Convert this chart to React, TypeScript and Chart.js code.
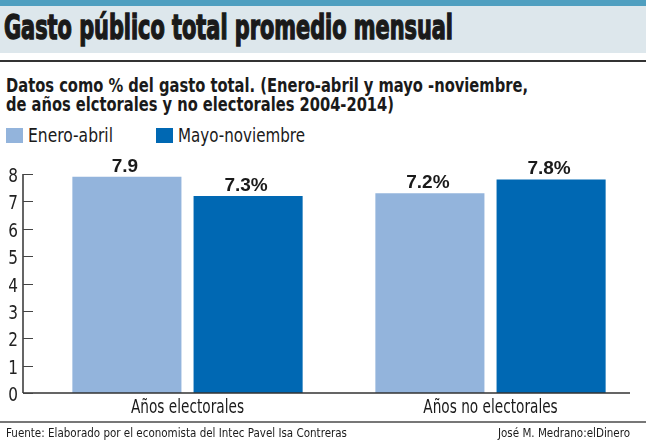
import React, { useEffect, useLayoutEffect, useRef } from "react";
import { Chart, registerables } from "chart.js";

Chart.register(...registerables);

// ---- data ----
const categories = ["Años electorales", "Años no electorales"];
const seriesNames = ["Enero-abril", "Mayo-noviembre"];
const eneroAbril = [7.9, 7.3];
const mayoNoviembre = [7.2, 7.8];
const eneroAbrilLabels = ["7.9", "7.2%"];
const mayoNoviembreLabels = ["7.3%", "7.8%"];
const yMin = 0;
const yMax = 8;
const yStep = 1;

const titleText = "Gasto público total promedio mensual";
const subtitle1 = "Datos como % del gasto total. (Enero-abril y mayo -noviembre,";
const subtitle2 = "de años elctorales y no electorales 2004-2014)";
const sourceText = "Fuente: Elaborado por el economista del Intec Pavel Isa Contreras";
const creditText = "José M. Medrano:elDinero";

// ---- styles ----
const LIGHT = "#93b4dc";
const DARK = "#0068b3";
const INK = "#1a1a1a";
const NARROW = "'Liberation Sans Narrow', 'Arial Narrow', 'DejaVu Sans Condensed', sans-serif";
const NORMAL = "'Liberation Sans', Arial, sans-serif";

function FitText(props: { text: string; left: number; top: number; width: number; style: React.CSSProperties }) {
  const ref = useRef<HTMLSpanElement>(null);
  useLayoutEffect(() => {
    const el = ref.current;
    if (!el) return;
    el.style.transform = "none";
    const w = el.getBoundingClientRect().width;
    if (w > 0) el.style.transform = `scaleX(${props.width / w})`;
  }, [props.text, props.width]);
  return (
    <span
      ref={ref}
      style={{
        position: "absolute",
        left: props.left,
        top: props.top,
        display: "inline-block",
        whiteSpace: "nowrap",
        transformOrigin: "left top",
        lineHeight: 1,
        ...props.style,
      }}
    >
      {props.text}
    </span>
  );
}

// axis lines, inward tick marks and condensed tick labels
const axisPlugin = {
  id: "customAxes",
  afterDatasetsDraw(chart: any) {
    const { ctx, chartArea, scales } = chart;
    const y = scales.y;
    const x = scales.x;
    const ax = chartArea.left - 13;
    const y0 = y.getPixelForValue(yMin);
    const yTop = y.getPixelForValue(yMax);
    ctx.save();
    ctx.strokeStyle = "#333";
    ctx.lineWidth = 1.5;
    ctx.beginPath();
    ctx.moveTo(ax, yTop);
    ctx.lineTo(ax, y0);
    ctx.moveTo(ax, y0);
    ctx.lineTo(chartArea.right - 12, y0);
    ctx.stroke();
    ctx.lineWidth = 1;
    ctx.strokeStyle = "#444";
    ctx.fillStyle = "#222";
    y.ticks.forEach((t: any) => {
      const py = Math.round(y.getPixelForValue(t.value)) + 0.5;
      ctx.beginPath();
      ctx.moveTo(ax, py);
      ctx.lineTo(ax + 10, py);
      ctx.stroke();
      ctx.save();
      ctx.font = `20px ${NARROW}`;
      ctx.textAlign = "right";
      ctx.textBaseline = "alphabetic";
      ctx.translate(chartArea.left - 18, py + 7.5);
      ctx.scale(0.85, 1);
      ctx.fillText(String(t.value), 0, 0);
      ctx.restore();
    });
    ctx.fillStyle = INK;
    categories.forEach((c, i) => {
      ctx.save();
      ctx.font = `19px ${NARROW}`;
      ctx.textAlign = "center";
      ctx.textBaseline = "alphabetic";
      ctx.translate(x.getPixelForTick(i), chartArea.bottom + 20);
      ctx.scale(0.8, 1);
      ctx.fillText(c, 0, 0);
      ctx.restore();
    });
    ctx.restore();
  },
};

const valueLabelPlugin = {
  id: "valueLabels",
  afterDatasetsDraw(chart: any) {
    const { ctx } = chart;
    const allLabels = [eneroAbrilLabels, mayoNoviembreLabels];
    ctx.save();
    ctx.font = `bold 19px ${NORMAL}`;
    ctx.fillStyle = INK;
    ctx.textAlign = "center";
    ctx.textBaseline = "alphabetic";
    chart.data.datasets.forEach((_: any, di: number) => {
      const meta = chart.getDatasetMeta(di);
      meta.data.forEach((bar: any, i: number) => {
        ctx.fillText(allLabels[di][i], bar.x - 2, bar.y - 5);
      });
    });
    ctx.restore();
  },
};

function BarChart() {
  const canvasRef = useRef<HTMLCanvasElement>(null);
  useEffect(() => {
    if (!canvasRef.current) return;
    const chart = new Chart(canvasRef.current, {
      type: "bar",
      data: {
        labels: categories,
        datasets: [
          { label: seriesNames[0], data: eneroAbril, backgroundColor: LIGHT, borderWidth: 0 },
          { label: seriesNames[1], data: mayoNoviembre, backgroundColor: DARK, borderWidth: 0 },
        ],
      },
      options: {
        animation: false,
        responsive: false,
        maintainAspectRatio: false,
        layout: { padding: { top: 24, right: 4, left: 0, bottom: 0 } },
        plugins: { legend: { display: false }, tooltip: { enabled: false }, title: { display: false } },
        scales: {
          x: {
            grid: { display: false, drawTicks: false },
            border: { display: false },
            ticks: { display: false },
            afterFit: (s: any) => {
              s.height = 29;
            },
          },
          y: {
            min: yMin,
            max: yMax,
            grid: { display: false, drawTicks: false },
            border: { display: false },
            ticks: { stepSize: yStep, display: false },
            afterFit: (s: any) => {
              s.width = 36;
            },
          },
        },
      },
      plugins: [axisPlugin, valueLabelPlugin],
    });
    return () => chart.destroy();
  }, []);
  return (
    <canvas
      ref={canvasRef}
      width={646}
      height={272}
      style={{ position: "absolute", left: 0, top: 150, width: 646, height: 272 }}
    />
  );
}

export default function App() {
  return (
    <div
      style={{
        position: "absolute",
        left: 0,
        top: 0,
        width: 646,
        height: 440,
        background: "#fff",
        overflow: "hidden",
        color: INK,
      }}
    >
      <div style={{ position: "absolute", left: 0, top: 0, width: 646, height: 6, background: "#4f9fc0" }} />
      <div style={{ position: "absolute", left: 0, top: 6, width: 646, height: 47, background: "#dde7ec" }} />
      <div style={{ position: "absolute", left: 0, top: 60, width: 646, height: 2, background: "#333" }} />
      <FitText
        text={titleText}
        left={4}
        top={10}
        width={449}
        style={{ fontFamily: NARROW, fontWeight: 700, fontSize: 34, WebkitTextStroke: "1.4px #1a1a1a", color: INK } as any}
      />
      <FitText text={subtitle1} left={6} top={76} width={522} style={{ fontFamily: NARROW, fontWeight: 700, fontSize: 19 }} />
      <FitText text={subtitle2} left={6} top={95} width={388} style={{ fontFamily: NARROW, fontWeight: 700, fontSize: 19 }} />
      <div style={{ position: "absolute", left: 6, top: 128, width: 17, height: 15, background: LIGHT }} />
      <FitText text={seriesNames[0]} left={28} top={126} width={85} style={{ fontFamily: NARROW, fontSize: 19 }} />
      <div style={{ position: "absolute", left: 156, top: 128, width: 17, height: 15, background: DARK }} />
      <FitText text={seriesNames[1]} left={178} top={126} width={127} style={{ fontFamily: NARROW, fontSize: 19 }} />
      <BarChart />
      <div style={{ position: "absolute", left: 0, top: 421, width: 646, height: 2, background: "#777" }} />
      <FitText text={sourceText} left={6} top={426} width={341} style={{ fontFamily: NARROW, fontSize: 13 }} />
      <FitText text={creditText} left={498} top={426} width={132} style={{ fontFamily: NARROW, fontSize: 13 }} />
    </div>
  );
}
